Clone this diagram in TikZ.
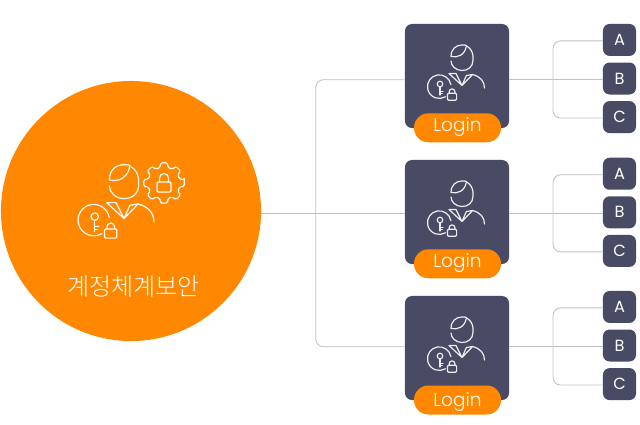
\documentclass[tikz,border=0pt]{standalone}
\usepackage{fontspec}
\usetikzlibrary{positioning}
\newfontfamily\krfont{Noto Sans CJK KR Light}
\newfontfamily\loginfont{Poppins Light}
\newfontfamily\leaffont{Poppins}
\definecolor{brandorange}{HTML}{FF8800}
\definecolor{slatecard}{HTML}{484B63}
\definecolor{wiregray}{HTML}{C0C0C0}
\tikzset{
  card/.style={fill=slatecard,rounded corners=5pt,minimum width=2.6cm,minimum height=2.6cm,inner sep=0},
  pill/.style={fill=brandorange,text=white,rounded corners=.36cm,minimum width=2.175cm,minimum height=.725cm,inner sep=0,text height=9.5pt,font=\loginfont\fontsize{13.2}{13.2}\selectfont},
  leaf/.style={fill=slatecard,text=white,rounded corners=4.7pt,minimum width=.825cm,minimum height=.8cm,inner sep=0,font=\leaffont\fontsize{11.5}{11.5}\selectfont},
  wire/.style={draw=wiregray,line width=.6pt},
  iconline/.style={line width=.85pt,line cap=round,line join=round},
  usericon/.pic={
    \draw[iconline,pic actions] (5.5,-11.5) .. controls (9,-9) and (10.5,-6) .. (11,-2) -- (11,2) .. controls (11,9) and (6,12.5) .. (0,12.5) .. controls (-6,12.5) and (-11,8) .. (-11,3);
    \draw[iconline,pic actions] (-11,-1.5) .. controls (-11,-9) and (-6,-13) .. (0,-13) .. controls (2,-13) and (3.5,-13) .. (4.5,-12.5) .. controls (3,-3) and (-4,0) .. (-11,-1.5);
    \draw[iconline,pic actions] (-6,15.5) -- (-13,15.5) -- (0,27.5) -- (-6,15.5) (0,27.5) -- (10.6,16.5) -- (4.4,17.5) -- (0,27.5);
    \draw[iconline,pic actions] (10.6,16.5) .. controls (18,18.5) and (22.5,23) .. (22.5,30);
    \draw[iconline,pic actions] (-11.1,26.6) arc [start angle=-10,end angle=-301,radius=11.8];
    \draw[iconline,pic actions] (-22,26) circle [radius=2.8];
    \draw[iconline,pic actions] (-22,28.8) -- (-22,37) (-22,33.4) -- (-19,33.4) (-22,35.6) -- (-19.8,35.6);
    \draw[iconline,pic actions,rounded corners=.8pt] (-14.6,35.3) rectangle (-5.4,42.2);
    \draw[iconline,pic actions] (-12.8,35.3) -- (-12.8,33.7) arc [start angle=180,end angle=360,radius=2.85] -- (-7.1,35.3);
  }
}
\begin{document}
\begin{tikzpicture}[x=.025cm,y=-.025cm]
\useasboundingbox (0,0) rectangle (640,424);
\node[circle,fill=brandorange,minimum size=6.5cm,inner sep=0] (main) at (131,211) {};
\pic[draw=white,scale=1.33] (mainicon) at (124,182) {usericon};
% gear beside the head
\begin{scope}[shift={(164,183)}]
\draw[iconline,draw=white,rounded corners=1pt] (-9:20.5)
  \foreach \a in {0,45,...,315} { -- (\a+9:20.5) -- (\a+15:16) -- (\a+30:16) -- (\a+36:20.5) } -- cycle;
\draw[iconline,draw=white,rounded corners=.8pt] (-7,-1) rectangle (7,9);
\draw[iconline,draw=white] (-4.5,-1) -- (-4.5,-5) arc [start angle=180,end angle=360,radius=4.5] -- (4.5,-1);
\end{scope}
\node[text=white,font=\krfont\fontsize{17.1}{17.1}\selectfont] (mainlabel) at (133.5,286) {계정체계보안};
\coordinate (trunk) at (315.7,213.3);
\foreach \row/\cy/\by/\py/\wy/\ld in {1/76/78.5/127.8/79.7/3.9pt,2/212/212.3/263.8/213.3/3.9pt,3/348/345.5/400/346.7/0pt} {
  \node[card] (card\row) at (457,\cy) {};
  \pic[draw=white!90!slatecard] (icon\row) at (462,\cy-18) {usericon};
  \node[pill,text depth=\ld] (login\row) at (457.5,\py) {Login};
  \node[leaf] (b\row) at (619.5,\by) {B};
  \node[leaf,above=.15cm of b\row] (a\row) {A};
  \node[leaf,below=.15cm of b\row] (c\row) {C};
  \coordinate (brk\row) at (553,\wy);
  \draw[wire] (card\row.east |- brk\row) -- (b\row.west |- brk\row);
  \draw[wire,rounded corners=5.5pt] ([yshift=-.7pt]a\row.west) -| (brk\row) |- ([yshift=-.7pt]c\row.west);
}
\draw[wire] (main.east |- trunk) -- (card2.west |- trunk);
\draw[wire,rounded corners=5.5pt] (card1.west |- brk1) -| (trunk) |- (card3.west |- brk3);
\end{tikzpicture}
\end{document}
